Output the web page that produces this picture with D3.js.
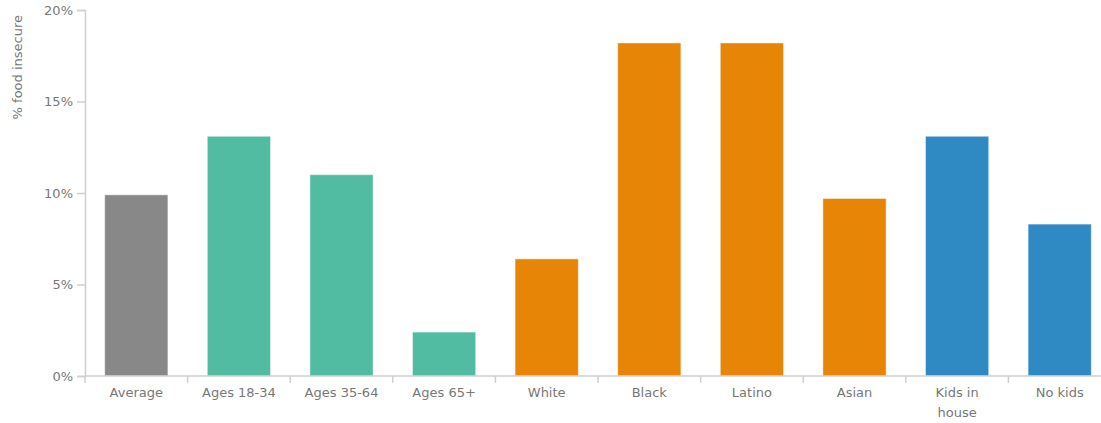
<!DOCTYPE html>
<html>
<head>
<meta charset="utf-8">
<script src="https://cdn.jsdelivr.net/npm/d3@7"></script>
<style>
  body { margin: 0; background: #fff; }
  .axis text { font-family: "DejaVu Sans", Verdana, sans-serif; font-size: 13px; fill: #777; }
  .axis path, .axis line { stroke: #cfcfcf; stroke-width: 1.5; }
  .ylabel { font-family: "DejaVu Sans", Verdana, sans-serif; font-size: 13px; fill: #777; }
</style>
</head>
<body>
<div class="plot"></div>
<script>
const categories = ["Average", "Ages 18-34", "Ages 35-64", "Ages 65+", "White", "Black", "Latino", "Asian", "Kids in house", "No kids"];
const values = [9.9, 13.1, 11.0, 2.4, 6.4, 18.2, 18.2, 9.7, 13.1, 8.3];
const groups = ["all", "age", "age", "age", "race", "race", "race", "race", "kids", "kids"];
const yTicks = [0, 5, 10, 15, 20];

const groupColor = {
    all: "#888888",
    age: "#52bca3",
    race: "#e68506",
    kids: "#2f8ac4"
};

const width = 1101, height = 423;
const margin = { top: 10, right: -10, bottom: 47, left: 85 };

const svg = d3.select(".plot")
    .append("svg")
    .attr("width", width)
    .attr("height", height);

const x = d3.scaleBand()
    .domain(categories)
    .range([margin.left, width - margin.right])
    .paddingInner(0.384)
    .paddingOuter(0.192);

const y = d3.scaleLinear()
    .domain([0, 20])
    .range([height - margin.bottom, margin.top]);

// bars
svg.append("g")
    .selectAll("rect")
    .data(categories)
    .enter().append("rect")
    .attr("x", d => x(d))
    .attr("width", x.bandwidth())
    .attr("y", (d, i) => y(values[i]))
    .attr("height", (d, i) => y(0) - y(values[i]))
    .attr("fill", (d, i) => groupColor[groups[i]])
    .attr("stroke", "#fff")
    .attr("stroke-opacity", 0.45)
    .attr("stroke-width", 1);

// y axis
const yAxis = d3.axisLeft(y)
    .tickValues(yTicks)
    .tickFormat(d => d + "%")
    .tickSize(8)
    .tickPadding(4);

svg.append("g")
    .attr("class", "y axis")
    .attr("transform", `translate(${margin.left}, 0)`)
    .call(yAxis);

// x axis: ticks sit between the bars
const xAxisG = svg.append("g")
    .attr("class", "x axis")
    .attr("transform", `translate(0, ${y(0)})`);

xAxisG.append("path")
    .attr("d", `M${margin.left},0H${width - margin.right}`)
    .attr("fill", "none");

const step = x.step();
xAxisG.selectAll(".bound")
    .data(categories)
    .enter().append("line")
    .attr("class", "bound")
    .attr("x1", (d, i) => margin.left + i * step)
    .attr("x2", (d, i) => margin.left + i * step)
    .attr("y1", 0)
    .attr("y2", 7);

const labels = xAxisG.selectAll(".lbl")
    .data(categories)
    .enter().append("text")
    .attr("class", "lbl")
    .attr("text-anchor", "middle")
    .attr("x", d => x(d) + x.bandwidth() / 2)
    .attr("y", 21);

// wrap long labels onto two lines
labels.each(function (d) {
    const t = d3.select(this);
    const words = d === "Kids in house" ? ["Kids in", "house"] : [d];
    words.forEach((w, k) => {
        t.append("tspan")
            .attr("x", x(d) + x.bandwidth() / 2)
            .attr("dy", k === 0 ? 0 : 20)
            .text(w);
    });
});

svg.append("text")
    .attr("class", "ylabel")
    .attr("transform", "rotate(-90)")
    .attr("x", -15)
    .attr("y", 22)
    .style("text-anchor", "end")
    .text("% food insecure");
</script>
</body>
</html>
